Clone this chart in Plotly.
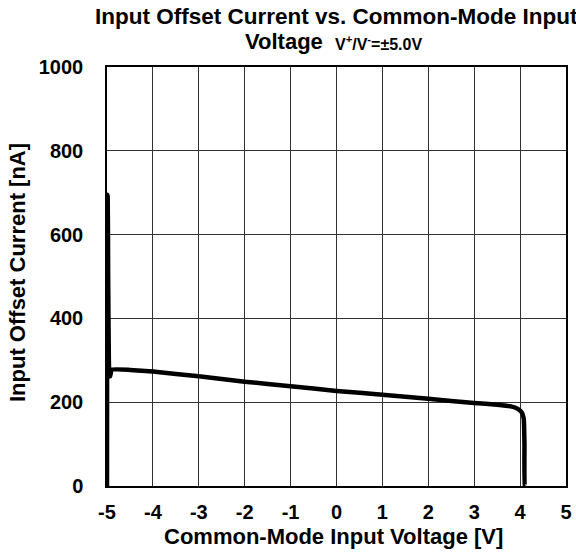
import plotly.graph_objects as go

vcm = [-5.0, -4.995, -4.985, -4.975, -4.96, -4.95, -4.93, -4.9, -4.5, -4.0, -3.0, -2.0, -1.0, 0.0, 1.0, 2.0, 3.0, 3.5, 3.8, 3.95, 4.04, 4.08, 4.095, 4.1, 4.12]
ios = [0, 695, 690, 500, 300, 268, 262, 278, 277, 273, 262, 249, 238, 227, 218, 208, 198, 194, 190, 184, 175, 160, 100, 0, 0]

x_ticks = [-5, -4, -3, -2, -1, 0, 1, 2, 3, 4, 5]
y_ticks = [0, 200, 400, 600, 800, 1000]

title_line1 = "Input Offset Current vs. Common-Mode Input"
title_line2 = "Voltage"
title_cond = "V<sup>+</sup>/V<sup>-</sup>=±5.0V"
x_title = "Common-Mode Input Voltage [V]"
y_title = "Input Offset Current [nA]"

font_family = "Liberation Sans, Arial, sans-serif"

fig = go.Figure()
fig.add_trace(go.Scatter(x=vcm, y=ios, mode="lines",
                         line=dict(color="black", width=4.5, shape="spline", smoothing=0.3),
                         showlegend=False))

fig.update_layout(
    width=576, height=557,
    margin=dict(l=107, r=10, t=67, b=71),
    paper_bgcolor="white", plot_bgcolor="white",
    font=dict(family=font_family, color="black"),
    xaxis=dict(
        range=[-5, 5], tickvals=x_ticks, ticktext=[f"<b>{v}</b>" for v in x_ticks],
        showgrid=True, gridcolor="#333333", gridwidth=1,
        showline=True, linecolor="black", linewidth=1.5, mirror=True,
        zeroline=False, ticks="", tickfont=dict(size=20), ticklabelstandoff=7,
        automargin=False,
    ),
    yaxis=dict(
        range=[0, 1000], tickvals=y_ticks, ticktext=[f"<b>{v}</b>" for v in y_ticks],
        showgrid=True, gridcolor="#333333", gridwidth=1,
        showline=True, linecolor="black", linewidth=1.5, mirror=True,
        zeroline=False, ticks="", tickfont=dict(size=20), ticklabelstandoff=18,
        automargin=False,
    ),
    annotations=[
        dict(text=f"<b>{title_line1}</b>", x=336, y=557 - 17, xref="paper", yref="paper",
             showarrow=False, font=dict(size=22.5), xanchor="center", yanchor="middle"),
        dict(text=f"<b>{title_line2}</b>", x=243, y=557 - 42, xref="paper", yref="paper",
             showarrow=False, font=dict(size=22), xanchor="left", yanchor="middle"),
        dict(text=f"<b>{title_cond}</b>", x=333, y=557 - 43, xref="paper", yref="paper",
             showarrow=False, font=dict(size=16), xanchor="left", yanchor="middle"),
        dict(text=f"<b>{x_title}</b>", x=333, y=557 - 536, xref="paper", yref="paper",
             showarrow=False, font=dict(size=22), xanchor="center", yanchor="middle"),
        dict(text=f"<b>{y_title}</b>", x=17, y=557 - 273, xref="paper", yref="paper",
             showarrow=False, font=dict(size=22), xanchor="center", yanchor="middle",
             textangle=-90),
    ],
)

# convert pixel positions to paper coordinates
pw = 576 - 107 - 10
ph = 557 - 67 - 71
for a in fig.layout.annotations:
    a.x = (a.x - 107) / pw
    a.y = (a.y - 71) / ph

fig.write_html("out.html", config={"displayModeBar": False},
               post_script="document.body.style.margin='0';")
